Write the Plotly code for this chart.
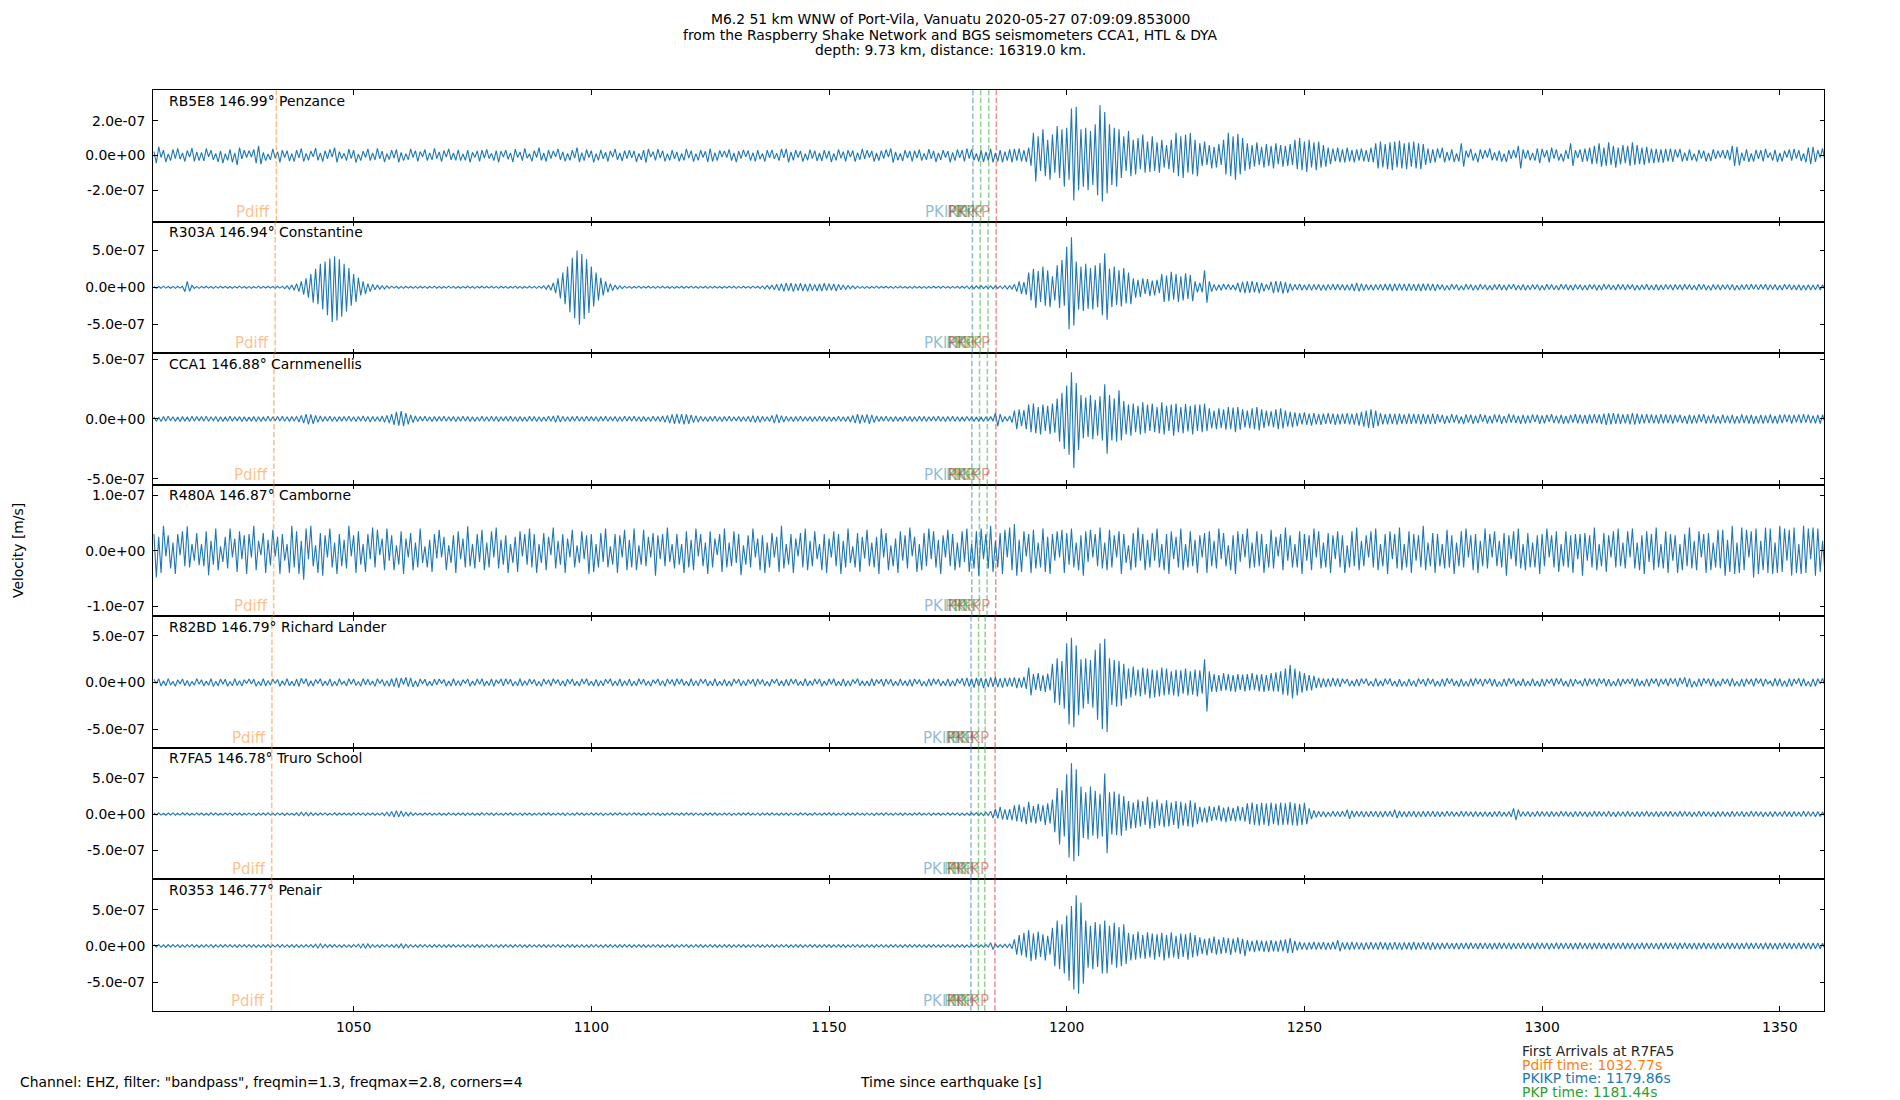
import numpy as np
import plotly.graph_objects as go

# seismogram peaks, one value every half second,
# starting at t_start (seconds after origin), in nm/s
t_start = 1008.0
t_step = 0.5
unit = 1e-9

stations = ["RB5E8", "R303A", "CCA1", "R480A", "R82BD", "R7FA5", "R0353"]
distances = ["146.99", "146.94", "146.88", "146.87", "146.79", "146.78", "146.77"]
places = ["Penzance", "Constantine", "Carnmenellis", "Camborne", "Richard Lander", "Truro School", "Penair"]

rb5e8 = [
    22, -45, 50, -12, 30, -38, 8, -30, 35, -18, 40, -22, 15, -35, 28, -10, 42, -34, 20, -30,
    18, -32, 40, -8, 30, -25, 12, -38, 26, -45, 10, -28, 35, -40, 15, -55, 45, -20, 30, -12,
    28, -10, 35, -45, 55, -50, 18, -30, 8, -25, 38, -16, 22, -40, 30, -12, 28, -32, 10, -36,
    30, -14, 40, -35, 12, -28, 25, -8, 42, -28, 15, -36, 28, -20, 35, -10, 45, -40, 22, -18,
    12, -30, 36, -18, 30, -42, 8, -30, 25, -12, 38, -30, 14, -26, 40, -20, 25, -38, 10, -24,
    30, -16, 35, -40, 18, -30, 10, -25, 38, -12, 28, -35, 22, -8, 34, -30, 15, -26, 40, -18,
    20, -36, 28, -10, 38, -25, 14, -28, 32, -30, 8, -28, 30, -40, 18, -12, 26, -34, 30, -15,
    35, -18, 12, -30, 28, -40, 25, -10, 30, -22, 15, -38, 36, -12, 20, -30, 40, -16, 10, -34,
    28, -12, 45, -28, 14, -35, 30, -18, 26, -8, 38, -25, 20, -34, 12, -28, 30, -16, 45, -38,
    16, -30, 34, -12, 28, -40, 10, -28, 32, -20, 18, -35, 26, -10, 38, -25, 14, -32, 28, -18,
    30, -14, 26, -38, 12, -25, 30, -42, 38, -10, 22, -28, 36, -16, 28, -34, 10, -28, 30, -20,
    20, -34, 12, -28, 38, -16, 28, -36, 10, -28, 30, -12, 24, -38, 40, -35, 16, -30, 28, -10,
    26, -12, 35, -30, 14, -38, 25, -18, 32, -8, 28, -30, 16, -34, 30, -22, 12, -36, 30, -14,
    32, -20, 12, -30, 38, -14, 38, -40, 20, -28, 30, -12, 26, -36, 10, -28, 34, -18, 28, -32,
    14, -32, 30, -18, 26, -38, 12, -28, 35, -16, 22, -34, 30, -10, 28, -36, 16, -25, 38, -20,
    30, -12, 26, -36, 14, -30, 28, -18, 34, -10, 40, -42, 20, -28, 12, -32, 30, -16, 26, -35,
    28, -16, 34, -30, 12, -25, 36, -20, 26, -38, 14, -26, 30, -12, 25, -40, 18, -30, 34, -14,
    30, -35, 40, -18, 35, -28, 12, -35, 30, -38, 20, -30, 38, -40, 15, -35, 30, -40, 22, -30,
    35, -40, 38, -30, 40, -35, 30, -38, 45, -60, 130, -150, 110, -90, 150, -120, 90, -140, 120, -100,
    170, -130, 150, -180, 160, -140, 270, -260, 280, -200, 150, -180, 160, -200, 140, -170, 180, -230, 290, -265,
    250, -220, 180, -170, 160, -180, 150, -130, 110, -90, 140, -120, 90, -110, 100, -80, 120, -100, 80, -95,
    110, -90, 75, -100, 90, -70, 60, -80, 90, -100, 130, -120, 110, -130, 120, -100, 130, -110, 90, -120,
    70, -60, 80, -55, 60, -75, 50, -70, 65, -55, 90, -110, 130, -120, 110, -140, 125, -110, 100, -90,
    70, -80, 60, -65, 75, -55, 50, -70, 65, -60, 55, -75, 70, -50, 60, -65, 55, -60, 65, -55,
    90, -80, 100, -85, 80, -95, 90, -70, 75, -85, 80, -70, 60, -65, 45, -50, 40, -35, 45, -40,
    35, -40, 45, -35, 30, -40, 35, -30, 40, -35, 30, -38, 45, -40, 70, -75, 80, -70, 65, -80,
    75, -85, 80, -70, 85, -75, 70, -80, 75, -65, 80, -75, 70, -80, 65, -55, 40, -45, 35, -40,
    40, -15, 45, -40, 20, -30, 35, -38, 12, -35, 70, -65, 28, -12, 38, -30, 15, -40, 35, -20,
    30, -12, 40, -28, 18, -30, 28, -36, 10, -38, 30, -20, 32, -15, 55, -75, 35, -18, 30, -28,
    15, -30, 40, -45, 38, -12, 30, -40, 45, -18, 35, -30, 10, -35, 30, -20, 70, -60, 30, -14,
    35, -38, 40, -35, 45, -50, 55, -48, 70, -65, 45, -60, 75, -55, 55, -70, 45, -52, 60, -45,
    55, -60, 75, -55, 60, -50, 45, -55, 50, -45, 40, -45, 38, -40, 35, -42, 38, -35, 40, -38,
    35, -12, 38, -35, 16, -32, 35, -28, 10, -35, 32, -18, 28, -35, 14, -32, 35, -20, 28, -12,
    30, -18, 32, -28, 55, -60, 50, -58, 16, -32, 35, -38, 12, -35, 32, -20, 30, -35, 38, -14,
    16, -30, 32, -38, 14, -35, 28, -12, 35, -30, 38, -18, 30, -32, 12, -40, 45, -50, 50, -38,
    30, -12, 40, -32,
]

r303a = [
    12, -15, 10, -14, 15, -12, 10, -13, 12, -15, 14, -12, 15, -60, 80, -55, 25, -15, 12, -14,
    12, -10, 14, -12, 10, -15, 12, -11, 14, -10, 12, -13, 10, -14, 12, -10, 15, -12, 11, -14,
    12, -14, 10, -12, 15, -13, 12, -10, 14, -12, 10, -15, 13, -12, 15, -18, 20, -25, 30, -40,
    50, -60, 80, -100, 120, -140, 180, -210, 250, -230, 320, -300, 350, -380, 390, -470, 420, -450, 380, -400,
    320, -330, 260, -250, 180, -200, 130, -110, 80, -90, 50, -60, 40, -35, 30, -25, 20, -25, 18, -15,
    15, -12, 14, -16, 12, -15, 14, -12, 10, -14, 12, -15, 13, -10, 12, -14, 10, -12, 15, -13,
    12, -14, 10, -12, 15, -11, 12, -14, 10, -13, 12, -10, 14, -12, 11, -15, 12, -10, 14, -12,
    10, -12, 14, -11, 12, -15, 13, -10, 12, -14, 10, -12, 15, -13, 12, -14, 10, -12, 14, -11,
    12, -14, 15, -12, 20, -25, 30, -40, 60, -80, 120, -150, 200, -230, 280, -340, 400, -420, 500, -510,
    450, -430, 380, -350, 280, -260, 200, -180, 130, -110, 80, -70, 50, -45, 30, -25, 20, -18, 15, -12,
    12, -14, 10, -12, 15, -13, 12, -10, 14, -12, 10, -15, 12, -11, 14, -12, 10, -13, 12, -14,
    10, -12, 14, -13, 12, -10, 15, -12, 11, -14, 12, -10, 13, -15, 12, -11, 14, -12, 10, -13,
    12, -10, 14, -12, 13, -15, 12, -11, 14, -10, 12, -13, 15, -12, 14, -16, 18, -20, 25, -22,
    30, -35, 40, -45, 50, -55, 60, -50, 55, -60, 50, -45, 55, -50, 45, -55, 50, -45, 40, -50,
    45, -50, 55, -45, 50, -40, 45, -50, 40, -35, 30, -28, 25, -22, 20, -18, 15, -14, 12, -15,
    12, -14, 10, -12, 15, -13, 12, -10, 14, -12, 10, -15, 12, -11, 14, -12, 10, -13, 12, -14,
    13, -12, 10, -14, 12, -15, 11, -12, 14, -10, 12, -13, 15, -12, 10, -14, 12, -11, 13, -15,
    14, -12, 18, -20, 15, -18, 20, -16, 22, -18, 15, -20, 18, -22, 20, -16, 18, -20, 22, -25,
    20, -25, 40, -60, 80, -90, 70, -100, 200, -180, 250, -280, 220, -200, 280, -250, 230, -270, 150, -180,
    300, -280, 370, -250, 550, -570, 680, -520, 350, -300, 280, -320, 320, -290, 260, -300, 300, -270, 330, -380,
    460, -440, 250, -270, 280, -240, 230, -260, 260, -220, 200, -230, 120, -140, 100, -130, 120, -90, 110, -120,
    90, -110, 100, -80, 180, -200, 160, -190, 210, -170, 180, -200, 150, -180, 190, -160, 170, -190, 80, -70,
    60, -70, 230, -210, 80, -60, 40, -45, 35, -40, 45, -30, 40, -35, 30, -40, 60, -70, 75, -80,
    80, -75, 85, -70, 70, -80, 60, -55, 40, -35, 75, -80, 85, -70, 80, -85, 70, -75, 50, -45,
    40, -35, 45, -40, 35, -38, 40, -42, 38, -35, 40, -45, 35, -40, 38, -35, 42, -38, 40, -36,
    38, -40, 35, -42, 45, -50, 60, -55, 50, -45, 40, -38, 35, -40, 38, -35, 40, -42, 45, -40,
    45, -50, 48, -45, 50, -42, 45, -48, 50, -45, 42, -48, 45, -50, 48, -44, 50, -46, 45, -48,
    40, -30, 35, -42, 25, -36, 40, -28, 38, -40, 22, -38, 40, -30, 38, -42, 28, -38, 40, -26,
    35, -38, 24, -36, 38, -30, 42, -38, 30, -40, 38, -25, 40, -38, 28, -36, 38, -40, 26, -35,
    38, -28, 36, -40, 25, -38, 40, -30, 38, -35, 24, -38, 40, -28, 38, -36, 30, -40, 38, -26,
    35, -38, 28, -36, 38, -25, 36, -40, 30, -38, 40, -26, 38, -35, 28, -38, 40, -30, 38, -36,
    36, -25, 38, -40, 28, -38, 35, -30, 40, -38, 26, -36, 38, -40, 30, -35, 38, -28, 35, -38,
    38, -30, 35, -38, 40, -26, 38, -35, 28, -38, 40, -30, 38, -36, 25, -40, 38, -30, 35, -38,
    35, -28, 36, -35, 38, -40, 26, -38, 35, -30, 38, -35, 40, -28, 36, -35, 38, -26, 40, -38,
    36, -30, 38, -36, 28, -38, 40, -26, 38, -35, 30, -38, 35, -40, 28, -36, 35, -38, 30, -35,
    38, -36, 35, -38,
]

cca1 = [
    18, -20, 15, -22, 20, -18, 22, -15, 18, -20, 16, -22, 20, -18, 15, -20, 22, -18, 20, -16,
    20, -18, 22, -20, 18, -15, 20, -22, 18, -20, 15, -18, 22, -20, 18, -16, 20, -22, 18, -20,
    16, -18, 20, -22, 18, -20, 15, -18, 22, -20, 18, -16, 20, -18, 22, -20, 18, -22, 20, -18,
    22, -25, 30, -35, 40, -45, 38, -40, 30, -28, 25, -22, 20, -18, 22, -20, 18, -22, 20, -18,
    20, -18, 22, -20, 18, -22, 20, -18, 25, -22, 20, -25, 22, -20, 18, -22, 25, -28, 30, -35,
    40, -50, 60, -55, 65, -60, 50, -45, 35, -30, 25, -22, 20, -18, 22, -20, 18, -22, 20, -18,
    20, -18, 22, -20, 18, -16, 20, -22, 18, -20, 22, -18, 20, -22, 18, -20, 16, -18, 22, -20,
    18, -20, 22, -18, 20, -22, 18, -16, 20, -18, 22, -20, 18, -22, 20, -18, 16, -20, 22, -18,
    20, -22, 18, -20, 16, -18, 22, -20, 25, -28, 30, -25, 22, -20, 18, -22, 20, -18, 22, -20,
    18, -20, 22, -18, 20, -16, 18, -22, 20, -18, 22, -20, 18, -16, 20, -22, 18, -20, 22, -18,
    20, -18, 22, -20, 18, -22, 20, -18, 16, -20, 22, -18, 20, -22, 25, -28, 30, -35, 38, -40,
    42, -38, 40, -45, 38, -40, 35, -30, 28, -25, 22, -20, 18, -22, 20, -18, 22, -20, 18, -22,
    20, -18, 22, -20, 18, -16, 20, -22, 18, -20, 22, -25, 28, -30, 25, -28, 22, -20, 18, -22,
    30, -35, 38, -32, 28, -25, 22, -20, 18, -22, 20, -18, 22, -20, 18, -16, 20, -22, 18, -20,
    22, -18, 20, -22, 18, -20, 16, -18, 22, -20, 18, -22, 20, -25, 30, -35, 40, -38, 35, -30,
    38, -40, 35, -30, 25, -22, 20, -18, 22, -20, 18, -22, 20, -18, 16, -20, 22, -18, 20, -22,
    18, -20, 22, -18, 20, -22, 18, -16, 20, -18, 22, -20, 18, -22, 20, -18, 22, -20, 18, -20,
    15, -18, 20, -15, 18, -20, 16, -18, 15, -20, 18, -16, 20, -18, 50, -60, 40, -25, 20, -18,
    25, -30, 70, -85, 80, -60, 75, -85, 120, -110, 130, -120, 100, -130, 120, -100, 110, -125, 130, -115,
    170, -190, 220, -250, 280, -300, 390, -410, 300, -260, 200, -160, 180, -150, 200, -170, 160, -140, 190, -180,
    290, -290, 200, -180, 170, -190, 240, -180, 150, -130, 120, -140, 130, -110, 110, -130, 140, -120, 120, -100,
    130, -110, 100, -120, 140, -130, 110, -100, 120, -140, 130, -110, 100, -120, 125, -105, 110, -130, 120, -100,
    120, -110, 130, -100, 90, -80, 70, -85, 90, -75, 80, -90, 100, -85, 95, -110, 100, -90, 80, -70,
    70, -80, 90, -85, 100, -95, 80, -75, 70, -60, 65, -70, 80, -85, 90, -80, 70, -65, 60, -70,
    55, -60, 50, -45, 55, -50, 45, -55, 50, -45, 40, -50, 45, -42, 48, -40, 45, -50, 42, -45,
    45, -40, 50, -45, 42, -48, 50, -55, 60, -65, 70, -75, 80, -75, 70, -60, 50, -45, 40, -45,
    45, -40, 42, -48, 45, -40, 38, -42, 45, -40, 42, -38, 40, -45, 42, -40, 38, -42, 45, -40,
    40, -28, 35, -40, 25, -35, 40, -30, 35, -38, 22, -42, 38, -30, 36, -40, 28, -35, 40, -24,
    35, -38, 26, -36, 38, -28, 36, -40, 24, -35, 42, -30, 36, -35, 25, -40, 35, -38, 30, -35,
    38, -26, 36, -40, 30, -36, 35, -24, 40, -35, 28, -36, 35, -40, 25, -36, 35, -30, 40, -36,
    36, -38, 35, -40, 38, -36, 40, -35, 38, -42, 45, -50, 48, -45, 50, -42, 45, -40, 38, -36,
    40, -45, 50, -48, 45, -40, 38, -36, 40, -35, 38, -36, 35, -38, 40, -36, 38, -35, 36, -38,
    35, -28, 36, -35, 26, -40, 36, -38, 30, -36, 38, -25, 40, -38, 28, -35, 38, -36, 24, -38,
    36, -35, 28, -36, 35, -38, 24, -36, 38, -35, 30, -38, 35, -40, 26, -36, 35, -38, 30, -35,
    38, -36, 25, -38, 36, -35, 38, -26, 36, -38, 35, -28, 38, -35, 40, -30, 36, -35, 28, -36,
    35, -38, 36, -35,
]

r480a = [
    30, -48, 25, -40, 45, -10, 28, -32, 15, -42, 30, -8, 35, -28, 44, -30, 12, -18, 32, -26,
    12, -28, 35, -44, 18, -25, 40, -35, 8, -20, 25, -32, 40, -12, 22, -38, 35, -15, 28, -42,
    30, -12, 45, -35, 18, -8, 32, -40, 20, -26, 38, -10, 25, -42, 30, -18, 12, -40, 45, -30,
    35, -42, 18, -52, 40, -15, 45, -28, 10, -40, 32, -45, 28, -12, 40, -30, 15, -42, 30, -28,
    20, -32, 45, -10, 28, -40, 35, -25, 12, -38, 30, -15, 42, -30, 38, -8, 22, -35, 40, -18,
    28, -35, 10, -25, 35, -42, 22, -12, 32, -35, 15, -30, 40, -22, 8, -30, 20, -38, 30, -14,
    38, -12, 25, -35, 10, -22, 28, -40, 35, -15, 22, -30, 44, -28, 12, -32, 30, -20, 38, -35,
    15, -30, 35, -12, 42, -32, 20, -25, 28, -40, 12, -22, 25, -38, 35, -10, 30, -25, 40, -30,
    30, -40, 12, -22, 32, -35, 25, -8, 42, -32, 18, -25, 30, -40, 22, -12, 38, -30, 10, -22,
    35, -15, 28, -42, 30, -38, 12, -30, 32, -20, 40, -30, 8, -25, 30, -40, 28, -12, 38, -35,
    20, -30, 40, -35, 10, -25, 38, -28, 25, -12, 32, -45, 28, -15, 30, -28, 42, -20, 12, -32,
    30, -25, 12, -40, 35, -30, 20, -35, 40, -10, 30, -28, 15, -42, 35, -30, 22, -8, 30, -38,
    40, -30, 15, -28, 35, -22, 30, -44, 10, -25, 28, -30, 40, -12, 22, -35, 28, -40, 15, -30,
    32, -12, 25, -38, 45, -32, 12, -25, 30, -40, 22, -10, 32, -30, 40, -35, 18, -28, 35, -15,
    12, -35, 30, -40, 22, -12, 35, -28, 30, -42, 18, -30, 40, -22, 8, -30, 32, -38, 25, -14,
    38, -28, 15, -30, 25, -42, 40, -12, 32, -35, 10, -28, 22, -40, 35, -18, 28, -32, 42, -10,
    25, -38, 12, -35, 32, -28, 40, -15, 35, -30, 20, -42, 28, -12, 38, -28, 30, -35, 15, -30,
    35, -20, 40, -38, 12, -32, 35, -45, 40, -15, 30, -32, 45, -38, 18, -30, 32, -42, 38, -12,
    42, -35, 48, -45, 20, -38, 35, -10, 30, -40, 38, -32, 15, -30, 40, -38, 25, -42, 30, -18,
    35, -12, 38, -40, 32, -25, 40, -30, 15, -35, 28, -45, 35, -20, 38, -12, 30, -28, 42, -32,
    15, -35, 38, -30, 28, -12, 35, -42, 30, -22, 10, -35, 32, -30, 42, -18, 30, -35, 20, -30,
    32, -18, 40, -30, 12, -35, 30, -42, 35, -15, 25, -30, 40, -35, 12, -30, 35, -28, 20, -40,
    28, -12, 32, -40, 35, -28, 18, -32, 40, -15, 32, -28, 10, -35, 28, -42, 35, -20, 30, -12,
    40, -32, 15, -30, 35, -28, 30, -40, 12, -30, 38, -32, 25, -10, 30, -35, 42, -18, 28, -30,
    12, -30, 35, -42, 30, -18, 28, -35, 40, -12, 35, -32, 15, -30, 32, -40, 28, -15, 35, -30,
    28, -40, 10, -30, 35, -28, 42, -35, 18, -28, 28, -12, 35, -30, 40, -35, 12, -28, 30, -42,
    35, -15, 30, -32, 42, -35, 12, -30, 35, -40, 30, -18, 28, -30, 45, -35, 15, -28, 32, -40,
    30, -28, 12, -32, 38, -30, 28, -42, 15, -28, 35, -30, 40, -12, 28, -35, 30, -40, 18, -28,
    40, -32, 30, -12, 35, -28, 18, -30, 32, -45, 28, -15, 35, -28, 40, -32, 12, -35, 32, -30,
    15, -30, 28, -42, 30, -28, 40, -12, 28, -30, 35, -38, 12, -28, 35, -30, 28, -40, 30, -15,
    30, -45, 32, -18, 28, -30, 42, -35, 12, -28, 32, -38, 28, -12, 35, -30, 40, -28, 15, -32,
    35, -12, 40, -32, 15, -35, 28, -42, 35, -20, 30, -35, 42, -30, 12, -32, 35, -40, 30, -18,
    28, -40, 12, -35, 30, -28, 42, -32, 18, -35, 35, -12, 30, -40, 32, -35, 15, -30, 38, -32,
    38, -45, 20, -38, 45, -42, 15, -40, 42, -35, 38, -12, 35, -48, 40, -42, 18, -35, 42, -40,
    40, -42, 15, -40, 45, -38, 40, -18, 38, -45, 42, -40, 12, -42, 45, -40, 40, -15, 42, -45,
    40, -38, 18, -40,
]

r82bd = [
    35, -12, 40, -38, 18, -35, 42, -28, 10, -40, 30, -15, 38, -35, 22, -40, 12, -30, 42, -20,
    30, -38, 15, -30, 40, -42, 12, -35, 38, -18, 35, -40, 10, -36, 42, -32, 20, -38, 30, -12,
    38, -15, 35, -40, 12, -35, 42, -38, 20, -30, 38, -10, 32, -40, 18, -30, 40, -36, 12, -38,
    35, -40, 45, -15, 40, -42, 18, -38, 32, -12, 40, -38, 15, -32, 38, -40, 12, -36, 40, -20,
    12, -38, 40, -18, 38, -32, 10, -40, 42, -25, 35, -30, 15, -42, 40, -12, 32, -38, 20, -40,
    40, -45, 50, -55, 48, -22, 55, -45, 50, -48, 20, -45, 38, -15, 35, -38, 12, -36, 35, -25,
    38, -12, 32, -40, 15, -38, 40, -32, 20, -38, 30, -10, 38, -40, 15, -32, 38, -20, 40, -38,
    15, -32, 38, -40, 30, -12, 38, -36, 40, -18, 35, -38, 10, -35, 40, -38, 18, -30, 38, -15,
    32, -38, 12, -40, 38, -20, 30, -38, 40, -12, 32, -36, 18, -40, 35, -15, 38, -35, 12, -38,
    38, -15, 40, -32, 12, -38, 32, -40, 20, -35, 35, -12, 40, -38, 15, -35, 38, -40, 18, -32,
    35, -38, 12, -35, 40, -20, 35, -32, 15, -40, 30, -12, 38, -32, 20, -40, 38, -15, 32, -38,
    40, -18, 38, -32, 12, -38, 40, -36, 20, -35, 38, -12, 35, -38, 15, -35, 40, -38, 12, -32,
    32, -38, 15, -40, 38, -12, 35, -38, 20, -35, 32, -15, 35, -40, 38, -18, 32, -36, 12, -40,
    35, -12, 38, -35, 18, -38, 32, -35, 38, -15, 35, -32, 12, -35, 40, -38, 18, -32, 38, -15,
    38, -40, 15, -32, 38, -18, 40, -38, 12, -35, 38, -40, 20, -38, 32, -12, 40, -36, 18, -35,
    15, -38, 40, -35, 32, -12, 35, -40, 38, -20, 35, -38, 12, -35, 38, -32, 18, -38, 32, -40,
    38, -15, 32, -38, 12, -40, 38, -35, 40, -18, 35, -38, 15, -35, 38, -40, 20, -38, 40, -12,
    45, -40, 50, -45, 40, -55, 48, -42, 50, -60, 45, -50, 55, -48, 60, -50, 45, -55, 50, -45,
    50, -45, 55, -60, 50, -55, 60, -70, 160, -140, 90, -80, 100, -90, 80, -100, 95, -85, 200, -220,
    260, -240, 230, -280, 420, -450, 480, -480, 400, -350, 250, -280, 260, -230, 240, -270, 350, -400, 420, -500,
    470, -530, 260, -240, 240, -260, 230, -250, 200, -180, 150, -160, 170, -140, 140, -150, 160, -130, 150, -170,
    140, -160, 130, -150, 160, -140, 150, -130, 120, -140, 140, -150, 130, -120, 150, -140, 120, -130, 140, -150,
    130, -120, 250, -310, 120, -100, 90, -100, 80, -90, 100, -85, 90, -95, 80, -100, 90, -80, 85, -95,
    90, -85, 100, -80, 85, -95, 90, -100, 80, -90, 100, -95, 110, -100, 120, -130, 150, -140, 190, -170,
    150, -140, 120, -110, 100, -90, 80, -85, 70, -60, 50, -55, 45, -50, 40, -45, 50, -40, 45, -48,
    40, -12, 38, -42, 18, -40, 35, -38, 42, -15, 40, -35, 12, -42, 45, -40, 18, -38, 40, -20,
    42, -38, 15, -45, 35, -40, 12, -42, 38, -35, 20, -45, 42, -15, 35, -40, 45, -18, 38, -40,
    15, -42, 38, -40, 45, -15, 40, -35, 18, -45, 38, -40, 12, -42, 40, -38, 45, -18, 38, -42,
    38, -15, 42, -38, 35, -45, 12, -42, 38, -40, 45, -15, 42, -40, 18, -35, 40, -42, 15, -38,
    42, -38, 15, -45, 38, -40, 35, -12, 40, -38, 45, -18, 42, -38, 15, -45, 38, -42, 35, -15,
    15, -42, 45, -38, 40, -18, 38, -45, 42, -15, 40, -42, 35, -40, 12, -38, 42, -40, 38, -15,
    38, -15, 42, -45, 40, -38, 18, -42, 38, -40, 42, -12, 40, -45, 38, -18, 40, -38, 45, -15,
    42, -45, 50, -18, 55, -50, 45, -52, 15, -45, 42, -40, 45, -12, 40, -38, 42, -45, 15, -38,
    40, -15, 38, -40, 45, -38, 12, -40, 38, -45, 40, -18, 38, -40, 45, -12, 40, -42, 38, -15,
    15, -40, 45, -38, 40, -42, 18, -45, 42, -40, 38, -15, 45, -40, 40, -38, 12, -45, 38, -40,
    40, -15, 45, -38,
]

r7fa5 = [
    15, -12, 18, -14, 12, -16, 14, -12, 16, -15, 12, -14, 18, -12, 15, -16, 12, -14, 16, -12,
    14, -16, 12, -15, 18, -12, 14, -16, 12, -14, 15, -12, 16, -18, 14, -12, 15, -16, 12, -14,
    16, -14, 12, -18, 15, -12, 14, -16, 18, -14, 12, -15, 16, -12, 14, -18, 15, -14, 12, -16,
    18, -22, 25, -20, 22, -25, 20, -18, 15, -16, 14, -12, 16, -15, 12, -14, 18, -16, 14, -12,
    15, -14, 12, -16, 18, -14, 15, -12, 16, -18, 14, -12, 15, -16, 12, -14, 18, -20, 25, -30,
    35, -40, 45, -38, 42, -35, 30, -25, 22, -18, 15, -14, 12, -16, 14, -12, 16, -15, 12, -14,
    14, -16, 12, -15, 18, -14, 12, -16, 15, -12, 14, -18, 16, -12, 14, -15, 12, -16, 18, -14,
    16, -12, 14, -18, 15, -14, 12, -16, 14, -12, 18, -15, 12, -14, 16, -18, 14, -12, 15, -16,
    12, -14, 16, -15, 14, -12, 18, -16, 12, -14, 15, -12, 14, -18, 16, -14, 12, -15, 18, -12,
    14, -16, 12, -14, 18, -15, 14, -12, 16, -18, 12, -14, 15, -16, 14, -12, 18, -14, 12, -16,
    16, -14, 18, -12, 14, -16, 12, -15, 18, -14, 16, -12, 14, -18, 12, -16, 15, -14, 18, -12,
    12, -15, 14, -16, 18, -12, 14, -15, 16, -14, 12, -18, 15, -12, 14, -16, 18, -15, 12, -14,
    14, -12, 16, -18, 12, -14, 15, -16, 14, -12, 18, -15, 12, -14, 16, -18, 14, -12, 15, -16,
    18, -14, 12, -16, 15, -12, 14, -18, 16, -14, 12, -15, 18, -12, 14, -16, 12, -15, 18, -14,
    12, -16, 14, -12, 18, -15, 14, -16, 12, -14, 16, -18, 14, -12, 15, -16, 18, -14, 12, -15,
    16, -14, 12, -18, 15, -12, 14, -16, 18, -14, 12, -15, 16, -12, 14, -18, 15, -14, 12, -16,
    14, -12, 18, -15, 12, -14, 16, -18, 14, -12, 15, -16, 12, -14, 18, -15, 14, -12, 16, -18,
    15, -18, 14, -16, 18, -15, 20, -22, 18, -20, 25, -20, 40, -55, 70, -60, 100, -75, 65, -80,
    70, -85, 120, -100, 130, -110, 100, -140, 170, -120, 110, -130, 140, -100, 120, -150, 150, -130, 200, -250,
    360, -420, 330, -310, 550, -600, 700, -650, 620, -580, 380, -330, 300, -350, 380, -300, 320, -340, 280, -310,
    560, -540, 300, -280, 310, -290, 280, -300, 250, -230, 180, -200, 160, -190, 200, -170, 180, -150, 240, -200,
    170, -190, 200, -160, 150, -180, 190, -170, 160, -150, 180, -200, 170, -160, 150, -170, 190, -180, 160, -140,
    100, -110, 90, -120, 110, -95, 100, -85, 120, -100, 90, -110, 100, -95, 85, -100, 110, -90, 95, -105,
    150, -140, 160, -150, 140, -160, 155, -145, 150, -165, 160, -140, 145, -155, 160, -150, 150, -145, 165, -155,
    150, -160, 140, -150, 155, -140, 80, -70, 50, -45, 40, -38, 35, -40, 30, -35, 40, -32, 35, -38,
    40, -35, 60, -65, 45, -40, 38, -35, 40, -42, 35, -38, 40, -35, 38, -42, 35, -40, 38, -35,
    40, -38, 60, -55, 42, -38, 35, -40, 38, -35, 40, -42, 35, -38, 40, -36, 38, -35, 40, -38,
    35, -38, 32, -35, 38, -30, 35, -32, 30, -35, 38, -32, 35, -30, 32, -38, 35, -32, 30, -35,
    32, -35, 30, -38, 35, -32, 38, -35, 30, -32, 35, -38, 80, -85, 60, -35, 32, -30, 35, -38,
    30, -35, 38, -32, 35, -30, 32, -38, 35, -32, 30, -35, 38, -30, 35, -32, 30, -38, 35, -32,
    35, -30, 32, -38, 30, -35, 38, -32, 35, -30, 32, -35, 38, -32, 30, -38, 35, -30, 32, -35,
    38, -32, 30, -35, 35, -38, 32, -30, 38, -35, 30, -32, 35, -38, 32, -30, 35, -32, 38, -35,
    30, -35, 38, -32, 35, -30, 32, -38, 30, -35, 38, -32, 35, -30, 32, -35, 30, -38, 35, -32,
    35, -32, 30, -38, 38, -35, 32, -30, 35, -38, 30, -32, 38, -35, 35, -30, 32, -38, 30, -35,
    32, -38, 35, -30, 30, -35, 38, -32, 32, -38, 35, -30, 30, -35, 38, -32, 35, -30, 32, -38,
    35, -32, 30, -35,
]

r0353 = [
    18, -15, 20, -18, 15, -20, 18, -16, 20, -15, 18, -20, 16, -18, 20, -15, 18, -16, 15, -20,
    16, -18, 20, -15, 18, -20, 15, -18, 20, -16, 18, -15, 20, -18, 16, -20, 18, -15, 20, -18,
    20, -16, 18, -20, 15, -18, 20, -16, 18, -20, 16, -15, 18, -20, 20, -18, 15, -16, 18, -20,
    18, -20, 16, -18, 20, -15, 18, -20, 25, -28, 30, -25, 22, -20, 18, -16, 20, -18, 15, -20,
    20, -18, 16, -20, 18, -15, 25, -28, 30, -32, 28, -25, 20, -18, 16, -20, 18, -15, 20, -18,
    18, -20, 22, -25, 28, -30, 25, -22, 20, -18, 16, -20, 18, -15, 20, -18, 16, -20, 18, -16,
    20, -18, 15, -20, 18, -16, 20, -18, 16, -15, 18, -20, 20, -18, 15, -16, 18, -20, 16, -18,
    18, -16, 20, -18, 15, -20, 18, -16, 20, -18, 16, -20, 18, -15, 20, -18, 16, -20, 18, -15,
    15, -18, 20, -16, 18, -20, 16, -18, 20, -15, 18, -20, 15, -18, 20, -16, 18, -20, 16, -18,
    20, -18, 16, -20, 18, -15, 20, -18, 16, -20, 18, -16, 20, -18, 15, -20, 18, -16, 20, -18,
    18, -20, 15, -18, 20, -16, 18, -20, 16, -18, 20, -15, 18, -20, 16, -18, 20, -16, 18, -20,
    16, -18, 20, -15, 18, -20, 16, -18, 20, -16, 18, -20, 15, -18, 20, -16, 18, -20, 16, -18,
    20, -16, 18, -20, 15, -18, 20, -16, 18, -20, 16, -18, 20, -15, 18, -20, 16, -18, 20, -16,
    18, -20, 16, -18, 20, -15, 18, -20, 16, -18, 20, -16, 18, -20, 15, -18, 20, -16, 18, -20,
    16, -18, 20, -16, 18, -20, 15, -18, 20, -16, 18, -20, 16, -18, 20, -15, 18, -20, 16, -18,
    20, -18, 16, -20, 18, -15, 20, -18, 16, -20, 18, -16, 20, -18, 15, -20, 18, -16, 20, -18,
    18, -16, 20, -18, 15, -20, 18, -16, 20, -18, 16, -20, 18, -15, 20, -18, 16, -20, 18, -16,
    18, -20, 16, -18, 20, -15, 18, -20, 16, -18, 20, -16, 45, -50, 30, -20, 18, -20, 25, -22,
    30, -40, 90, -120, 150, -130, 180, -160, 220, -210, 170, -190, 200, -150, 160, -200, 140, -120, 250, -280,
    350, -320, 300, -380, 420, -480, 550, -600, 700, -660, 600, -520, 350, -300, 280, -320, 330, -290, 300, -380,
    350, -380, 280, -260, 320, -300, 260, -280, 300, -250, 180, -200, 160, -190, 200, -170, 150, -180, 190, -160,
    170, -190, 160, -150, 180, -200, 150, -170, 190, -160, 140, -180, 170, -150, 160, -190, 180, -160, 150, -140,
    120, -110, 100, -130, 110, -100, 130, -120, 90, -110, 120, -100, 110, -125, 100, -90, 120, -110, 100, -140,
    80, -75, 70, -85, 80, -70, 75, -80, 70, -85, 80, -75, 70, -80, 85, -75, 90, -100, 110, -95,
    70, -60, 55, -50, 45, -55, 50, -45, 55, -50, 48, -45, 52, -55, 45, -50, 55, -48, 80, -75,
    50, -45, 48, -52, 55, -45, 50, -48, 45, -55, 50, -45, 52, -48, 45, -50, 55, -45, 48, -52,
    45, -50, 52, -48, 45, -55, 50, -45, 48, -52, 55, -50, 45, -48, 52, -45, 50, -55, 48, -45,
    40, -45, 42, -38, 45, -40, 38, -42, 40, -45, 42, -38, 40, -42, 45, -40, 38, -42, 40, -38,
    42, -40, 38, -45, 40, -42, 45, -38, 40, -40, 42, -45, 38, -40, 42, -38, 45, -40, 40, -42,
    38, -42, 45, -40, 40, -38, 42, -45, 38, -40, 45, -42, 40, -38, 42, -40, 38, -45, 40, -42,
    45, -40, 38, -42, 42, -45, 40, -38, 45, -40, 38, -42, 40, -45, 42, -38, 40, -40, 45, -42,
    40, -38, 42, -45, 38, -40, 45, -42, 40, -38, 42, -40, 38, -45, 40, -42, 45, -38, 40, -40,
    42, -45, 40, -38, 45, -40, 38, -42, 42, -45, 40, -38, 45, -42, 38, -40, 42, -45, 40, -38,
    38, -40, 45, -42, 40, -38, 42, -45, 38, -40, 45, -42, 40, -38, 42, -40, 38, -45, 45, -42,
    40, -42, 38, -45, 42, -40, 45, -38, 40, -42, 38, -40, 45, -42, 40, -38, 42, -45, 40, -38,
    42, -40, 38, -45,
]

traces = [rb5e8, r303a, cca1, r480a, r82bd, r7fa5, r0353]

# phase arrival times per station [s]
pdiff_t = [1033.74, 1033.51, 1033.23, 1033.18, 1032.82, 1032.77, 1032.72]
pkikp_t = [1180.26, 1180.16, 1180.05, 1180.03, 1179.88, 1179.86, 1179.84]
pkp_t = [1181.90, 1181.79, 1181.66, 1181.64, 1181.46, 1181.44, 1181.42]
pkp2_t = [1183.60, 1183.45, 1183.30, 1183.25, 1182.85, 1182.80, 1182.75]
pkikp_i_t = [1185.20, 1185.15, 1185.10, 1185.08, 1184.95, 1184.93, 1184.90]

# y limits and ticks per panel [m/s]
y_lims = [(-3.82e-7, 3.76e-7), (-8.95e-7, 8.9e-7), (-5.5e-7, 5.5e-7), (-1.18e-7, 1.19e-7),
          (-7.0e-7, 7.1e-7), (-9.0e-7, 9.15e-7), (-8.95e-7, 9.2e-7)]
y_ticks = [[-2e-7, 0, 2e-7], [-5e-7, 0, 5e-7], [-5e-7, 0, 5e-7], [-1e-7, 0, 1e-7],
           [-5e-7, 0, 5e-7], [-5e-7, 0, 5e-7], [-5e-7, 0, 5e-7]]
x_lim = (1007.8, 1359.3)
x_ticks = [1050, 1100, 1150, 1200, 1250, 1300, 1350]

W, H = 1900, 1100
FONT = "DejaVu Sans"
FS = 13.9

# panel geometry in pixels
left_px, right_px = 153, 1824
top_px, panel_px = 88.5, 132.0

phases = [
    (pdiff_t, "Pdiff", "rgba(255,127,14,0.5)"),
    (pkikp_t, "PKIKP", "rgba(31,119,180,0.5)"),
    (pkp_t, "PKP", "rgba(44,160,44,0.5)"),
    (pkp2_t, "PKP", "rgba(44,160,44,0.5)"),
    (pkikp_i_t, "PKiKP", "rgba(214,39,40,0.5)"),
]

axstyle = dict(showgrid=False, zeroline=False, showline=True, linecolor="black",
               linewidth=1, mirror="ticks", ticks="inside", ticklen=4.5, tickwidth=1,
               tickcolor="black", tickfont=dict(family=FONT, size=FS, color="black"))

fig = go.Figure()
shapes = []
annotations = []

for i, vals in enumerate(traces):
    n = i + 1
    sfx = "" if n == 1 else str(n)
    t = t_start + t_step * np.arange(len(vals))
    fig.add_trace(go.Scatter(x=t, y=np.array(vals) * unit, mode="lines",
                             line=dict(color="#1f77b4", width=1.1),
                             xaxis="x" + sfx, yaxis="y" + sfx,
                             showlegend=False, hoverinfo="skip"))

    y_top = 1 - (top_px + i * panel_px) / H
    y_bot = 1 - (top_px + (i + 1) * panel_px) / H
    fig.update_layout(**{
        "xaxis" + sfx: dict(domain=[left_px / W, right_px / W], anchor="y" + sfx,
                            range=list(x_lim), tickvals=x_ticks,
                            showticklabels=(n == len(traces)), ticklabelstandoff=4, **axstyle),
        "yaxis" + sfx: dict(domain=[y_bot, y_top], anchor="x" + sfx,
                            range=list(y_lims[i]), tickvals=y_ticks[i],
                            ticktext=[f"{v:.1e}" for v in y_ticks[i]],
                            ticklabelstandoff=4, **axstyle),
    })

    # arrival markers and their labels at the foot of each panel
    for times, name, col in phases:
        shapes.append(dict(type="line", xref="x" + sfx, yref="y" + sfx + " domain",
                           x0=times[i], x1=times[i], y0=0, y1=1, layer="above",
                           line=dict(color=col, width=1.5, dash="5.5px,2.4px")))
        annotations.append(dict(x=times[i], xref="x" + sfx, y=0.075, yref="y" + sfx + " domain",
                                text=name, showarrow=False, xanchor="right", yanchor="middle",
                                xshift=-4, font=dict(family=FONT, size=15, color=col)))

    annotations.append(dict(x=(left_px + 14) / W, xref="paper",
                            y=1 - (top_px + i * panel_px + 10.5) / H, yref="paper",
                            text=f"{stations[i]} {distances[i]}° {places[i]}",
                            showarrow=False, xanchor="left", yanchor="middle",
                            font=dict(family=FONT, size=FS, color="black")))

# titles and figure texts
title_lines = ["M6.2 51 km WNW of Port-Vila, Vanuatu 2020-05-27 07:09:09.853000",
               "from the Raspberry Shake Network and BGS seismometers CCA1, HTL & DYA",
               "depth: 9.73 km, distance: 16319.0 km."]
for txt, yc in zip(title_lines, [17, 33, 48.5]):
    annotations.append(dict(x=0.5, y=1 - yc / H, xref="paper", yref="paper", text=txt,
                            showarrow=False, xanchor="center", yanchor="middle",
                            font=dict(family=FONT, size=FS, color="black")))

annotations.append(dict(x=18 / W, y=1 - 551 / H, xref="paper", yref="paper",
                        text="Velocity [m/s]", textangle=-90, showarrow=False,
                        xanchor="center", yanchor="middle",
                        font=dict(family=FONT, size=FS, color="black")))
annotations.append(dict(x=18 / W, y=1 - 1083.5 / H, xref="paper", yref="paper",
                        text='Channel: EHZ, filter: "bandpass", freqmin=1.3, freqmax=2.8, corners=4',
                        showarrow=False, xanchor="left", yanchor="middle",
                        font=dict(family=FONT, size=FS, color="black")))
annotations.append(dict(x=951 / W, y=1 - 1083.5 / H, xref="paper", yref="paper",
                        text="Time since earthquake [s]", showarrow=False,
                        xanchor="center", yanchor="middle",
                        font=dict(family=FONT, size=FS, color="black")))

first_arrivals = [("First Arrivals at R7FA5", "#262626", 1053.0),
                  ("Pdiff time: 1032.77s", "#ff7f0e", 1066.8),
                  ("PKIKP time: 1179.86s", "#1f77b4", 1080.2),
                  ("PKP time: 1181.44s", "#2ca02c", 1093.8)]
for txt, col, yc in first_arrivals:
    annotations.append(dict(x=1519.5 / W, y=1 - yc / H, xref="paper", yref="paper", text=txt,
                            showarrow=False, xanchor="left", yanchor="middle",
                            font=dict(family=FONT, size=FS, color=col)))

fig.update_layout(width=W, height=H, autosize=False,
                  margin=dict(l=0, r=0, t=0, b=0),
                  paper_bgcolor="white", plot_bgcolor="white",
                  font=dict(family=FONT, size=FS, color="black"),
                  shapes=shapes, annotations=annotations, showlegend=False)

# drop the page's default body margin so the figure sits at the window corner
fig.write_html("out.html", config={"displayModeBar": False},
               post_script="document.body.style.margin='0px';")
